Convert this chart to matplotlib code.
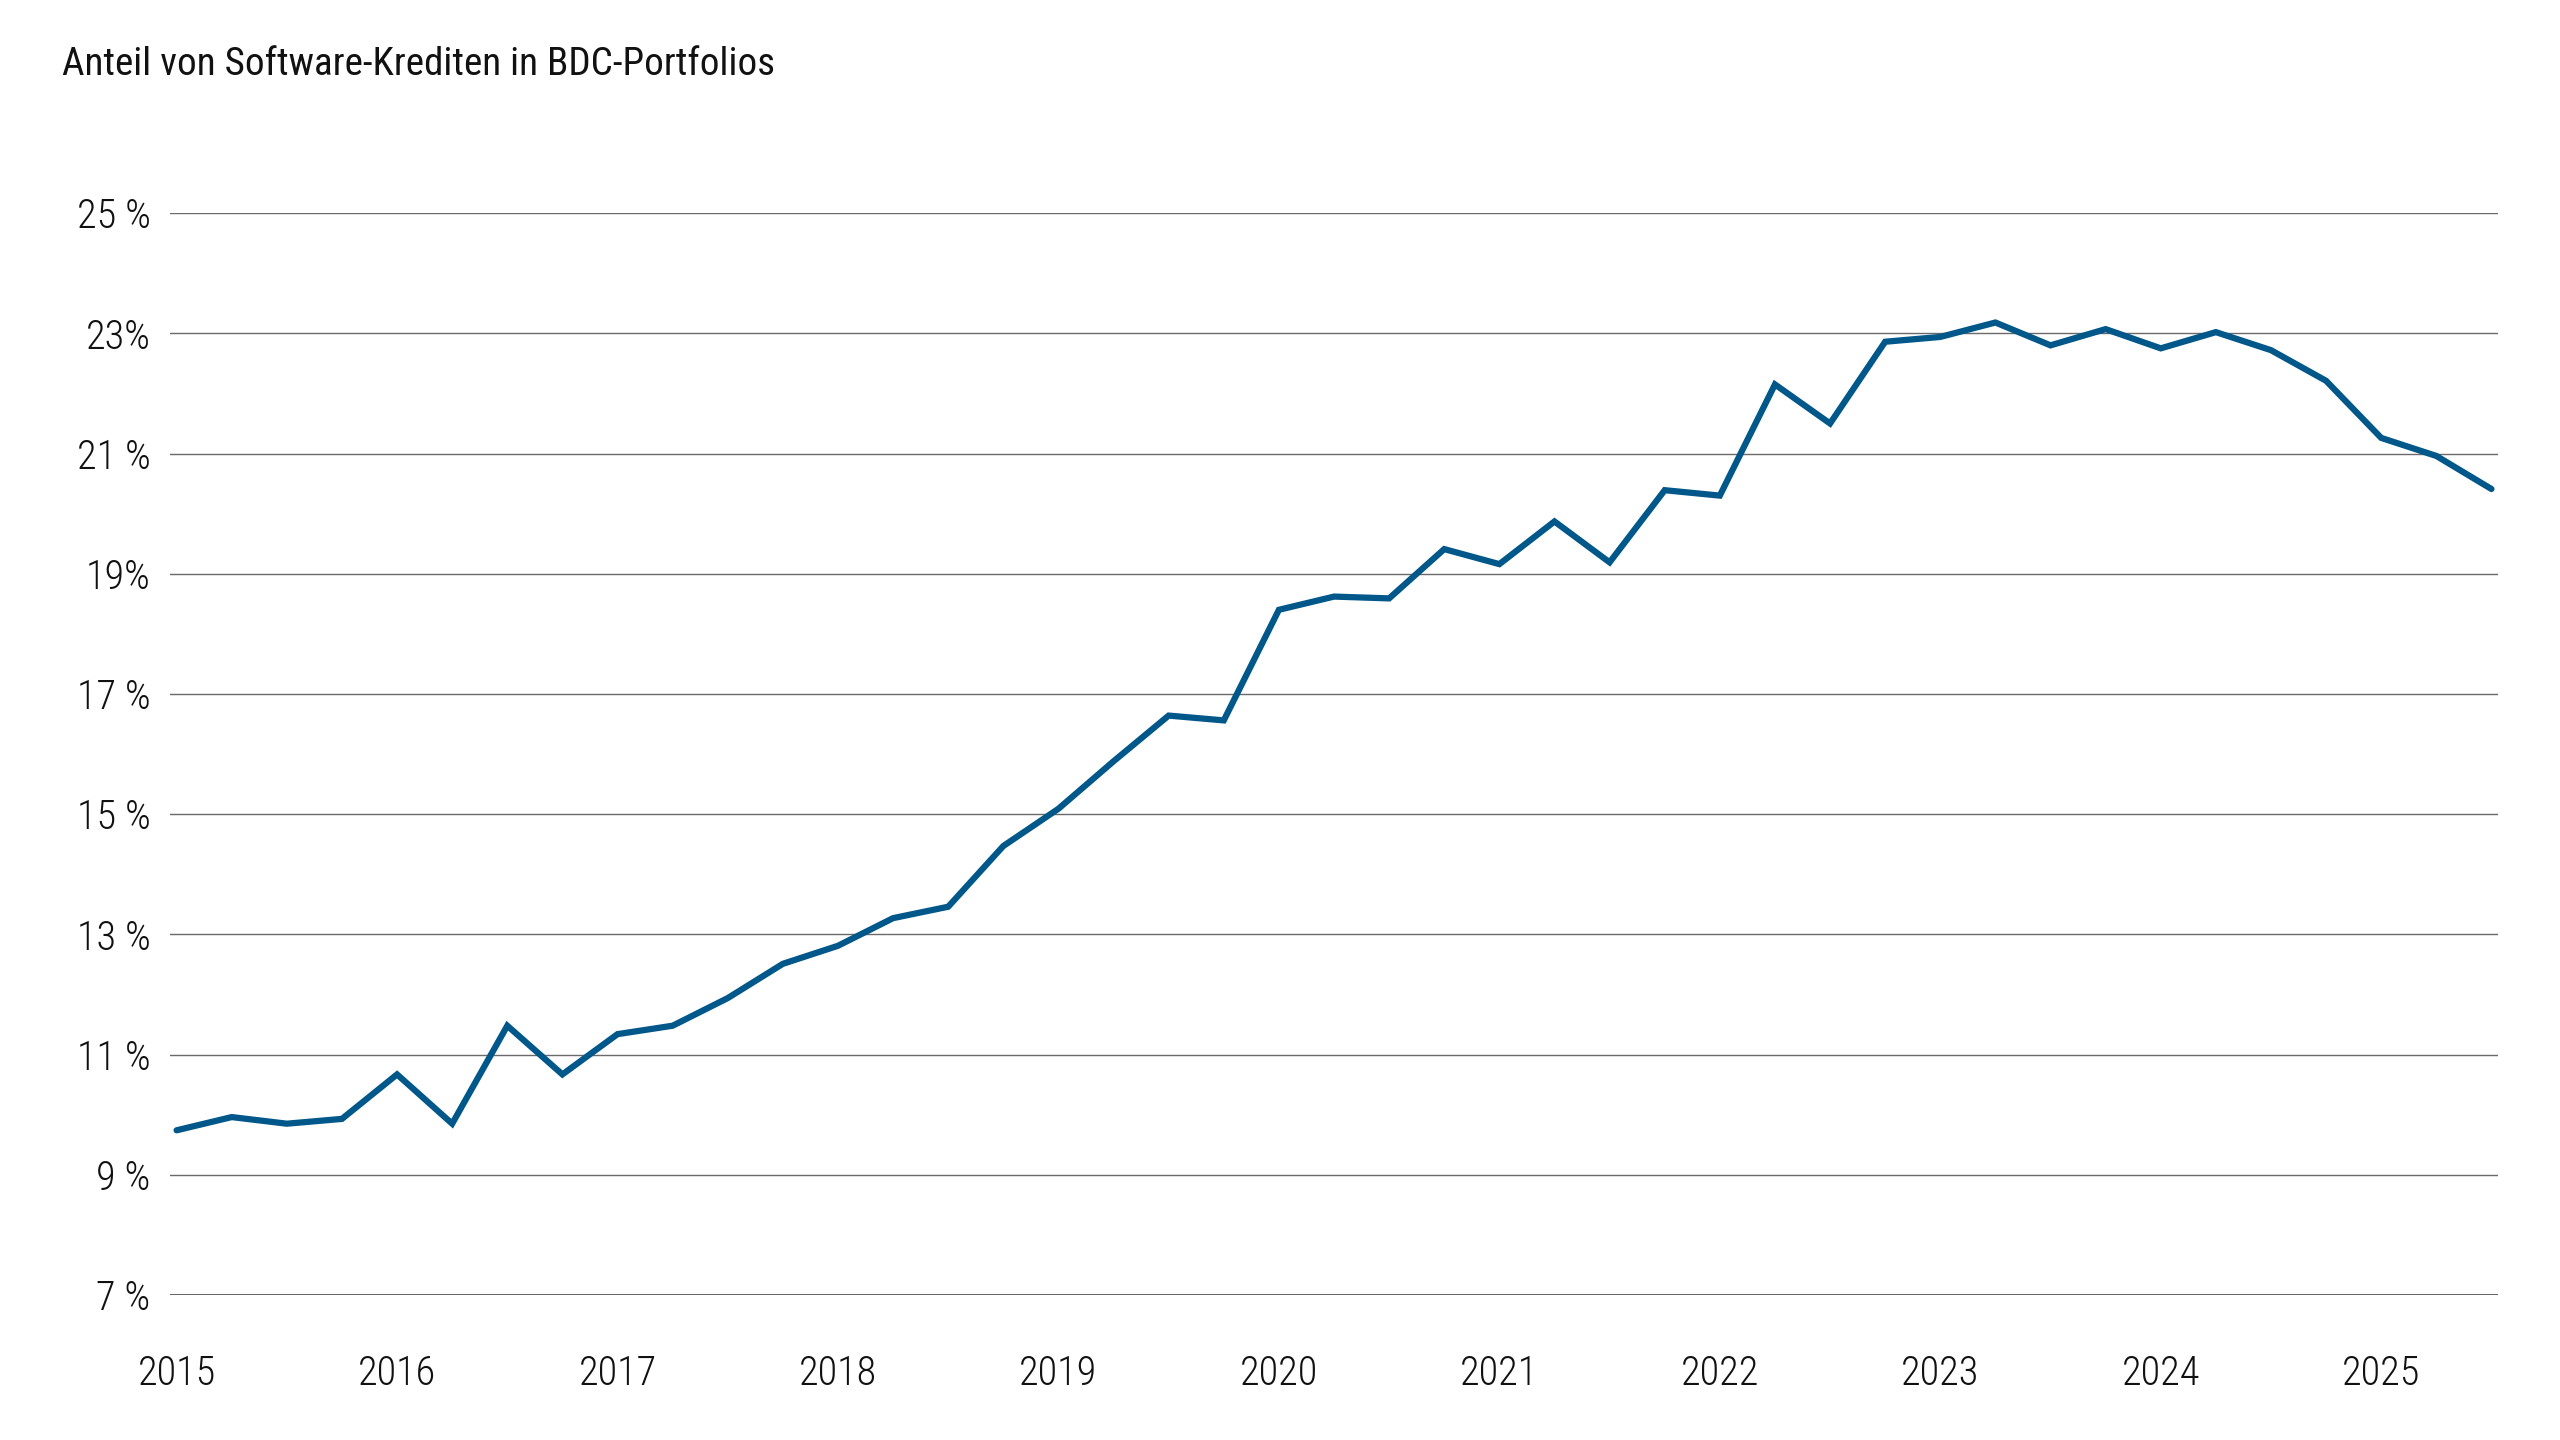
import matplotlib
matplotlib.use('Agg')
import matplotlib.pyplot as plt

# quarterly share of software loans in BDC portfolios, 2015Q1 .. 2025Q3
years = [2015, 2016, 2017, 2018, 2019, 2020, 2021, 2022, 2023, 2024, 2025]
quarters = [2015 + i * 0.25 for i in range(43)]
share = [9.74, 9.96, 9.85, 9.93, 10.67, 9.85, 11.48, 10.67, 11.34, 11.48,
         11.94, 12.51, 12.81, 13.27, 13.46, 14.47, 15.09, 15.88, 16.64, 16.56,
         18.40, 18.62, 18.59, 19.41, 19.16, 19.87, 19.19, 20.39, 20.30, 22.15,
         21.50, 22.86, 22.94, 23.18, 22.80, 23.07, 22.75, 23.02, 22.72, 22.21,
         21.26, 20.96, 20.41]
yticks = [7, 9, 11, 13, 15, 17, 19, 21, 23, 25]
ytick_labels = ['7 %', '9 %', '11 %', '13 %', '15 %', '17 %', '19%', '21 %', '23%', '25 %']
title = 'Anteil von Software-Krediten in BDC-Portfolios'

plt.rcParams['font.family'] = ['Roboto Condensed', 'DejaVu Sans']

fig = plt.figure(figsize=(25.6, 14.4), dpi=100)
ax = fig.add_axes([0.0664, 0.1007, 0.9094, 0.7513])

for y in yticks[1:]:
    ax.axhline(y, color='#6a6a6a', lw=1.0, zorder=1)
ax.axhline(7, color='#555555', lw=2.0, zorder=1)

ax.plot(quarters, share, color='#00578A', lw=4.5, solid_joinstyle='miter',
        solid_capstyle='round', zorder=3)

ax.set_xlim(2014.97, 2025.53)
ax.set_ylim(7, 25)
ax.set_yticks(yticks)
ax.set_yticklabels(ytick_labels)
ax.set_xticks(years)
ax.set_xticklabels([str(y) for y in years])
ax.tick_params(axis='both', length=0, labelsize=29, colors='#111111')
ax.tick_params(axis='y', pad=14)
ax.tick_params(axis='x', pad=43)
for lab in ax.get_xticklabels() + ax.get_yticklabels():
    lab.set_fontweight('light')
for s in ax.spines.values():
    s.set_visible(False)

fig.text(0.0242, 0.955, title, fontsize=28.2, color='#111111', va='center', ha='left')

fig.savefig('out.png', dpi=100, facecolor='white')
